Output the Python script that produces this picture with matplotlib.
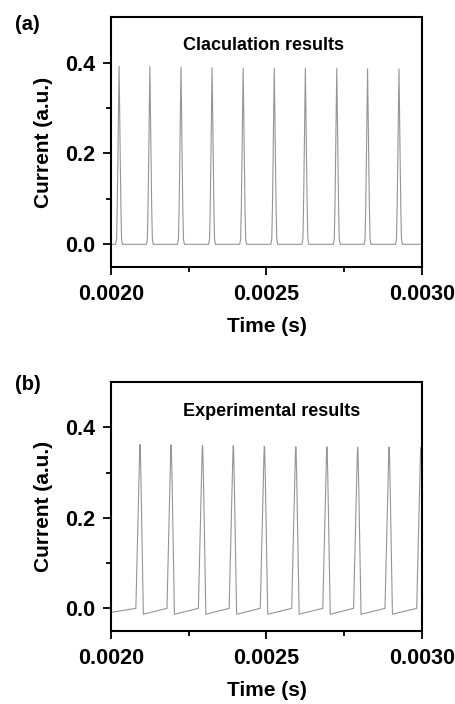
import numpy as np
import matplotlib.pyplot as plt
from matplotlib.ticker import FixedLocator

plt.rcParams['font.family'] = ['Liberation Sans', 'DejaVu Sans']
plt.rcParams['font.weight'] = 'bold'
plt.rcParams['axes.labelweight'] = 'bold'

# (a) calculated current pulses
calc_peak_times = [0.002026, 0.002125, 0.002225, 0.002325, 0.002425,
                   0.002525, 0.002625, 0.002726, 0.002825, 0.002926]
calc_peak_heights = [0.392, 0.391, 0.390, 0.389, 0.388,
                     0.388, 0.387, 0.387, 0.386, 0.386]
calc_shape_dt = [-11, -8, -6, -4, -2, 0, 2, 4, 6, 8, 11]
calc_shape_rel = [0, 0.03, 0.2, 0.45, 0.73, 1, 0.73, 0.45, 0.2, 0.03, 0]

# (b) measured current pulses
exp_peak_times = [0.002093, 0.002193, 0.002294, 0.002393, 0.002493,
                  0.002594, 0.002694, 0.002793, 0.002894, 0.002996]
exp_peak_heights = [0.362, 0.361, 0.360, 0.359, 0.358,
                    0.357, 0.357, 0.356, 0.356, 0.355]
exp_top_dt = [-1, 0, 1, 3]
exp_top_rel = [0.955, 1.0, 0.985, 0.83]
exp_rise_dt = -13
exp_fall_dt = 11
exp_base_start = -0.009
exp_base_low = -0.013
exp_base_high = 0.0

x_ticks = [0.0020, 0.0025, 0.0030]
x_minor = [0.00225, 0.00275]
y_ticks = [0.0, 0.2, 0.4]
y_minor = [0.1, 0.3]


def build_calc():
    t = [0.002]
    y = [0.0]
    for tp, h in zip(calc_peak_times, calc_peak_heights):
        for dt, r in zip(calc_shape_dt, calc_shape_rel):
            t.append(tp + dt * 1e-6)
            y.append(h * r)
    t.append(0.003)
    y.append(0.0)
    return np.array(t), np.array(y)


def build_exp():
    t = [0.002]
    y = [exp_base_start]
    for tp, h in zip(exp_peak_times, exp_peak_heights):
        t.append(tp + exp_rise_dt * 1e-6)
        y.append(exp_base_high)
        for dt, r in zip(exp_top_dt, exp_top_rel):
            t.append(tp + dt * 1e-6)
            y.append(h * r)
        t.append(tp + exp_fall_dt * 1e-6)
        y.append(exp_base_low)
    return np.array(t), np.array(y)


def style_axes(ax):
    ax.set_xlim(0.002, 0.003)
    ax.set_ylim(-0.05, 0.5)
    ax.set_xticks(x_ticks)
    ax.set_xticklabels(['0.0020', '0.0025', '0.0030'])
    ax.set_yticks(y_ticks)
    ax.set_yticklabels(['0.0', '0.2', '0.4'])
    ax.xaxis.set_minor_locator(FixedLocator(x_minor))
    ax.yaxis.set_minor_locator(FixedLocator(y_minor))
    ax.tick_params(which='major', direction='out', length=6, width=1.3,
                   labelsize=15.5)
    ax.tick_params(axis='x', which='major', pad=6)
    ax.tick_params(axis='y', which='major', pad=5)
    ax.tick_params(which='minor', direction='out', length=3.5, width=1.3)
    for s in ax.spines.values():
        s.set_linewidth(1.5)
    ax.set_xlabel('Time (s)', fontsize=15, labelpad=9)
    ax.set_ylabel('Current (a.u.)', fontsize=15, labelpad=9)


fig = plt.figure(figsize=(4.56, 7.04), dpi=100)

ax1 = fig.add_axes([0.2434, 0.6207, 0.682, 0.355])
t, y = build_calc()
ax1.plot(t, y, color='#959595', lw=0.8)
style_axes(ax1)
ax1.text(0.492, 0.887, 'Claculation results', transform=ax1.transAxes,
         ha='center', va='center', fontsize=13, fontweight='bold')
fig.text(15 / 456, 1 - 25 / 704, '(a)', fontsize=14.5, fontweight='bold',
         va='center', ha='left')

ax2 = fig.add_axes([0.2434, 0.1037, 0.682, 0.3537])
t, y = build_exp()
ax2.plot(t, y, color='#959595', lw=0.8)
style_axes(ax2)
ax2.text(0.517, 0.881, 'Experimental results', transform=ax2.transAxes,
         ha='center', va='center', fontsize=13, fontweight='bold')
fig.text(15 / 456, 1 - 385 / 704, '(b)', fontsize=14.5, fontweight='bold',
         va='center', ha='left')

fig.savefig('out.png', dpi=100)
